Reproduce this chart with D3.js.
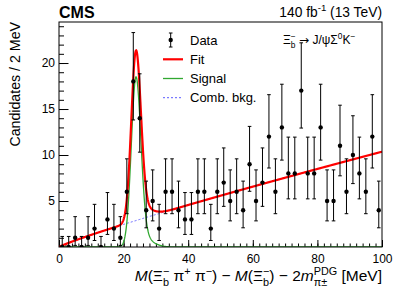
<!DOCTYPE html>
<html>
<head>
<meta charset="utf-8">
<script src="https://cdn.jsdelivr.net/npm/d3@7"></script>
<style>
body { margin: 0; background: #fff; }
text { font-family: "Liberation Sans", Arial, Helvetica, sans-serif; white-space: pre; fill: #000; }
</style>
</head>
<body>
<svg id="chart" width="399" height="288"></svg>
<script>
// bins of 2 MeV
var binCenters = [1, 3, 5, 7, 9, 11, 13, 15, 17, 19, 21, 23, 25, 27, 29, 31, 33, 35, 37, 39,
    41, 43, 45, 47, 49, 51, 53, 55, 57, 59, 61, 63, 65, 67, 69, 71, 73, 75, 77, 79,
    81, 83, 85, 87, 89, 91, 93, 95, 97, 99];
var counts = [0, 0, 1, 0, 1, 2, 0, 3, 2, 1, 6, 18, 14, 4, 5, 2, 6, 6, 4, 3,
    3, 6, 6, 2, 6, 7, 5, 6, 4, 9, 5, 7, 12, 6, 13, 8, 8, 17, 8, 8,
    13, 5, 5, 11, 6, 10, 8, 6, 12, 4];

// 68% poisson intervals, indexed by count
var poisLow = [0, 0.173, 0.708, 1.367, 2.086, 2.840, 3.620, 4.419, 5.232, 6.057,
    6.892, 7.736, 8.587, 9.446, 10.310, 11.179, 12.052, 12.930, 13.812];
var poisHigh = [1.148, 3.300, 4.638, 5.918, 7.163, 8.382, 9.584, 10.770, 11.945, 13.110,
    14.267, 15.416, 16.559, 17.696, 18.828, 19.955, 21.078, 22.196, 23.311];

var xTicks = [0, 20, 40, 60, 80, 100];
var yTicks = [5, 10, 15, 20];

// fit parameters
var bkgNorm = 10.36, bkgPower = 0.894;
var sigHeight = 18.5, sigMean = 23.85, sigWidthL = 1.45, sigWidthR = 1.5,
    sigTailWidth = 3.5, sigTailFrac = 0.1;

var legendLabels = ["Data", "Fit", "Signal", "Comb. bkg."];

var frameL = 59, frameR = 382, frameT = 22, frameB = 247;

var svg = d3.select("#chart");

var x = d3.scaleLinear().domain([0, 100]).range([frameL, frameR]);
var y = d3.scaleLinear().domain([0, 24.46]).range([frameB, frameT]);

function bkg(v) {
    return bkgNorm * Math.pow(v / 100, bkgPower);
}
function sig(v) {
    var d = v - sigMean;
    if (d < 0) return sigHeight * Math.exp(-0.5 * (d / sigWidthL) * (d / sigWidthL));
    return sigHeight * (Math.exp(-0.5 * (d / sigWidthR) * (d / sigWidthR)) +
        sigTailFrac * Math.exp(-0.5 * (d / sigTailWidth) * (d / sigTailWidth))) / (1 + sigTailFrac);
}

// text with sub/superscripts
function richText(parent, px, py, parts, fs, anchor) {
    var g = parent.append("g").attr("transform", "translate(" + px + "," + py + ")");
    var cx = 0;
    function put(txt, dy, size, italic, fam) {
        var t = g.append("text").attr("x", cx).attr("y", dy).attr("font-size", size).text(txt);
        if (italic) t.attr("font-style", "italic");
        if (fam) t.style("font-family", fam);
        return t.node().getComputedTextLength();
    }
    parts.forEach(function (p) {
        if (p.sub !== undefined || p.sup !== undefined) {
            var w1 = 0, w2 = 0;
            if (p.sub) w1 = put(p.sub, 0.3 * fs, 0.7 * fs, false);
            if (p.sup) w2 = put(p.sup, -0.42 * fs, 0.7 * fs, false);
            cx += Math.max(w1, w2);
        } else {
            cx += put(p.t, 0, fs, p.it, p.fam);
        }
    });
    if (anchor == "end") g.attr("transform", "translate(" + (px - cx) + "," + py + ")");
    return g;
}

svg.append("defs").append("clipPath").attr("id", "frameClip")
    .append("rect").attr("x", frameL).attr("y", frameT)
    .attr("width", frameR - frameL).attr("height", frameB - frameT);

// axes
var xMinor = svg.append("g").attr("transform", "translate(0," + frameB + ")")
    .call(d3.axisBottom(x).tickValues(d3.range(0, 101, 2)).tickSizeInner(-3.5).tickSizeOuter(0).tickFormat(""));
var xMajor = svg.append("g").attr("transform", "translate(0," + frameB + ")")
    .call(d3.axisBottom(x).tickValues(xTicks).tickSizeInner(-7).tickSizeOuter(0).tickPadding(7.5));
var yMinor = svg.append("g").attr("transform", "translate(" + frameL + ",0)")
    .call(d3.axisLeft(y).tickValues(d3.range(1, 25, 1)).tickSizeInner(-5).tickSizeOuter(0).tickFormat(""));
var yMajor = svg.append("g").attr("transform", "translate(" + frameL + ",0)")
    .call(d3.axisLeft(y).tickValues(yTicks).tickSizeInner(-9.5).tickSizeOuter(0).tickPadding(4));

[xMinor, xMajor, yMinor, yMajor].forEach(function (a) {
    a.select(".domain").remove();
    a.selectAll("line").attr("stroke", "#000").attr("stroke-width", 1);
    a.selectAll("text").attr("font-size", 12).attr("font-family", null).attr("fill", "#000");
});

// curves
var grid = d3.range(0, 100.001, 0.1);
var line = d3.line().x(function (d) { return x(d[0]); }).y(function (d) { return y(d[1]); });
var plot = svg.append("g").attr("clip-path", "url(#frameClip)");

plot.append("path").datum(grid.map(function (v) { return [v, bkg(v)]; }))
    .attr("d", line).attr("fill", "none").attr("stroke", "#5c5cff")
    .attr("stroke-width", 1).attr("stroke-dasharray", "2,2");
plot.append("path").datum(grid.map(function (v) { return [v, sig(v)]; }))
    .attr("d", line).attr("fill", "none").attr("stroke", "#31a831").attr("stroke-width", 1.3);
plot.append("path").datum(grid.map(function (v) { return [v, bkg(v) + sig(v)]; }))
    .attr("d", line).attr("fill", "none").attr("stroke", "#ff0000").attr("stroke-width", 2.2);

// data
var pts = binCenters.map(function (c, i) { return { x: c, n: counts[i] }; });
var dg = plot.append("g").selectAll("g").data(pts).join("g");
dg.append("line")
    .attr("x1", function (d) { return x(d.x); }).attr("x2", function (d) { return x(d.x); })
    .attr("y1", function (d) { return y(poisLow[d.n]); }).attr("y2", function (d) { return y(poisHigh[d.n]); })
    .attr("stroke", "#000").attr("stroke-width", 1);
dg.append("line")
    .attr("x1", function (d) { return x(d.x) - 1.8; }).attr("x2", function (d) { return x(d.x) + 1.8; })
    .attr("y1", function (d) { return y(poisHigh[d.n]); }).attr("y2", function (d) { return y(poisHigh[d.n]); })
    .attr("stroke", "#000").attr("stroke-width", 1);
dg.filter(function (d) { return d.n > 0; }).append("line")
    .attr("x1", function (d) { return x(d.x) - 1.8; }).attr("x2", function (d) { return x(d.x) + 1.8; })
    .attr("y1", function (d) { return y(poisLow[d.n]); }).attr("y2", function (d) { return y(poisLow[d.n]); })
    .attr("stroke", "#000").attr("stroke-width", 1);
dg.append("circle")
    .attr("cx", function (d) { return x(d.x); }).attr("cy", function (d) { return y(d.n); })
    .attr("r", 2.2).attr("fill", "#000");

// frame
svg.append("rect").attr("x", frameL).attr("y", frameT)
    .attr("width", frameR - frameL).attr("height", frameB - frameT)
    .attr("fill", "none").attr("stroke", "#000").attr("stroke-width", 1);

// legend
var legRows = [40, 59.3, 78.5, 97.7];
var leg = svg.append("g");
leg.append("line").attr("x1", 170.7).attr("x2", 170.7).attr("y1", 33).attr("y2", 47).attr("stroke", "#000");
leg.append("line").attr("x1", 168.9).attr("x2", 172.5).attr("y1", 33).attr("y2", 33).attr("stroke", "#000");
leg.append("line").attr("x1", 168.9).attr("x2", 172.5).attr("y1", 47).attr("y2", 47).attr("stroke", "#000");
leg.append("circle").attr("cx", 170.7).attr("cy", legRows[0]).attr("r", 2.2).attr("fill", "#000");
leg.append("line").attr("x1", 163).attr("x2", 183).attr("y1", legRows[1]).attr("y2", legRows[1])
    .attr("stroke", "#ff0000").attr("stroke-width", 2.2);
leg.append("line").attr("x1", 163).attr("x2", 183).attr("y1", legRows[2]).attr("y2", legRows[2])
    .attr("stroke", "#31a831").attr("stroke-width", 1.3);
leg.append("line").attr("x1", 163).attr("x2", 183).attr("y1", legRows[3]).attr("y2", legRows[3])
    .attr("stroke", "#5c5cff").attr("stroke-width", 1).attr("stroke-dasharray", "2,2");
leg.selectAll("text.lab").data(legendLabels).join("text").attr("class", "lab")
    .attr("x", 190).attr("y", function (d, i) { return legRows[i]; })
    .attr("dy", "0.36em").attr("font-size", 13).text(function (d) { return d; });

// labels
svg.append("text").attr("x", frameL).attr("y", 18).attr("font-size", 16)
    .attr("font-weight", "bold").text("CMS");
richText(svg, frameR, 16.5, [{ t: "140 fb" }, { sup: "-1" }, { t: " (13 TeV)" }], 13.8, "end");
richText(svg, 283, 44, [{ t: "Ξ" }, { sub: "b", sup: "−" }, { t: " " }, { t: "→", fam: "DejaVu Sans" }, { t: " J/ψΣ" }, { sup: "0" }, { t: "K" }, { sup: "−" }], 12);

svg.append("text").attr("transform", "translate(19.5," + frameT + ") rotate(-90)")
    .attr("text-anchor", "end").attr("font-size", 14.2).text("Candidates / 2 MeV");

richText(svg, frameR, 281, [
    { t: "M", it: true }, { t: "(Ξ" }, { sub: "b", sup: "−" }, { t: " π" }, { sup: "+" }, { t: " π" }, { sup: "−" },
    { t: ") − " }, { t: "M", it: true }, { t: "(Ξ" }, { sub: "b", sup: "−" }, { t: ") − 2" },
    { t: "m", it: true }, { sub: "π±", sup: "PDG" }, { t: " [MeV]" }
], 15.5, "end");
</script>
</body>
</html>
